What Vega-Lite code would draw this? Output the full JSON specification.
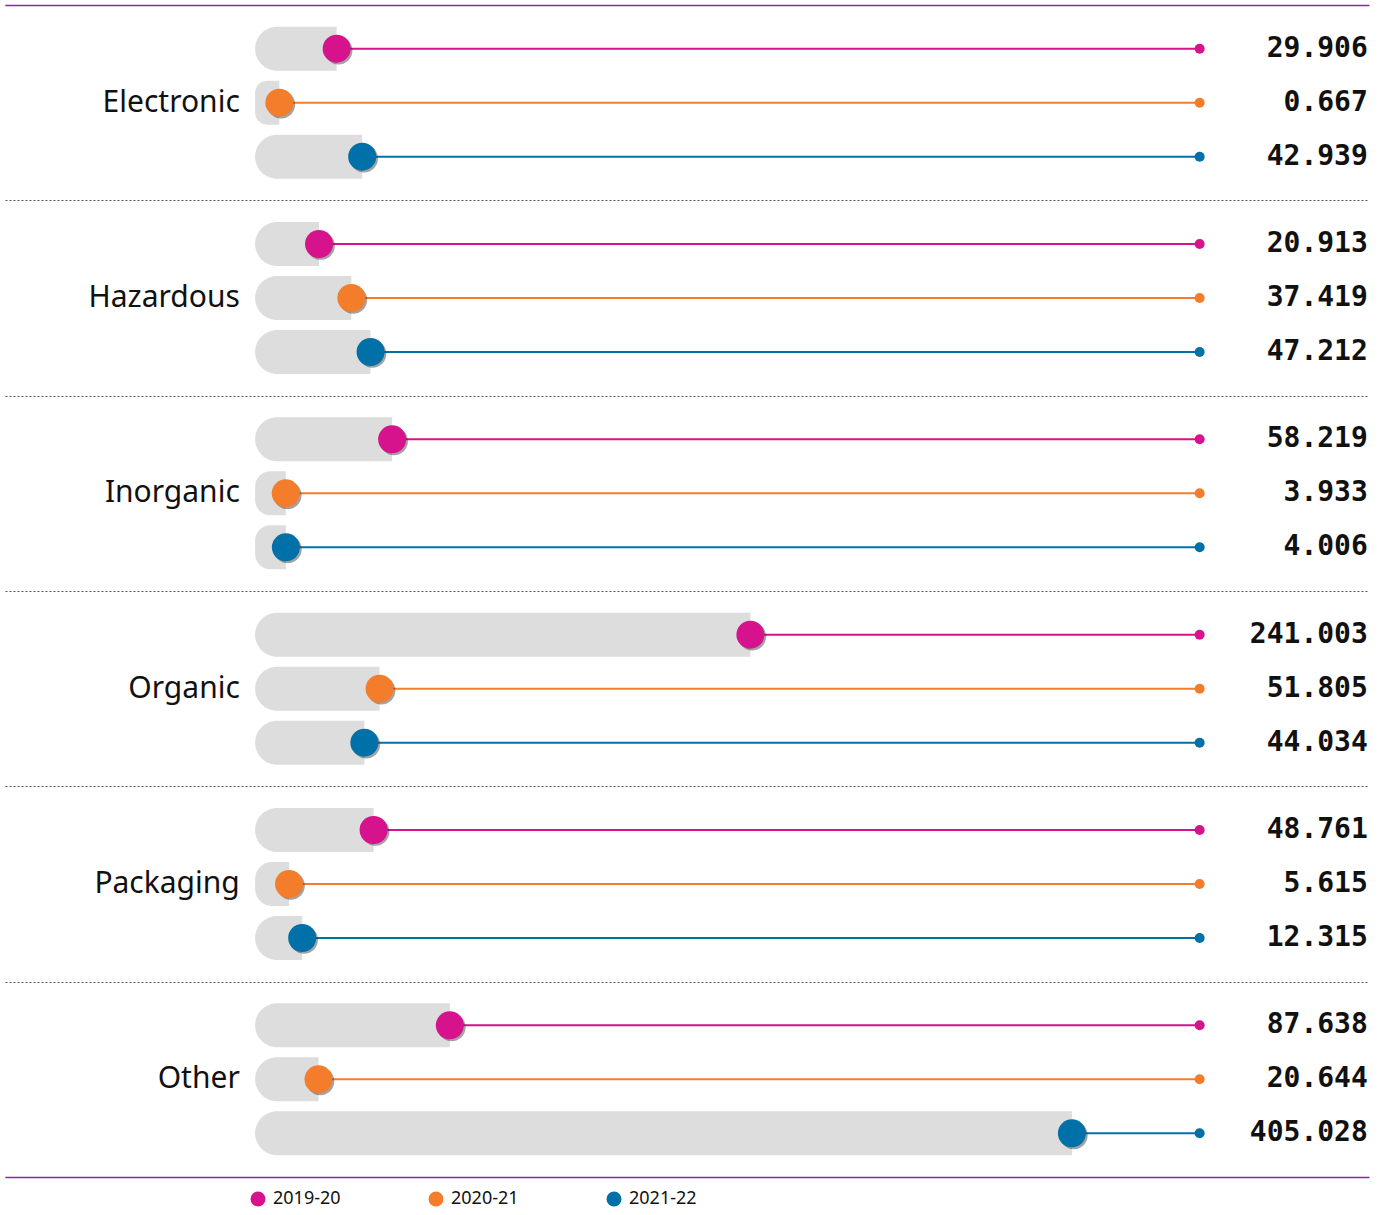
{
  "$schema": "https://vega.github.io/schema/vega-lite/v6.json",
  "width": 1364,
  "height": 1172,
  "padding": {"left": 5, "top": 5, "right": 17, "bottom": 0},
  "background": "white",
  "config": {
    "view": {"stroke": null},
    "font": "Noto Sans",
    "axisX": {"domainColor": "#7b2fa0", "domainWidth": 1.5, "labels": false, "ticks": false, "grid": false, "title": null, "zindex": 1}
  },
  "data": {"values": [
    {"category": "Electronic", "year": "2019-20", "value": 29.906},
    {"category": "Electronic", "year": "2020-21", "value": 0.667},
    {"category": "Electronic", "year": "2021-22", "value": 42.939},
    {"category": "Hazardous", "year": "2019-20", "value": 20.913},
    {"category": "Hazardous", "year": "2020-21", "value": 37.419},
    {"category": "Hazardous", "year": "2021-22", "value": 47.212},
    {"category": "Inorganic", "year": "2019-20", "value": 58.219},
    {"category": "Inorganic", "year": "2020-21", "value": 3.933},
    {"category": "Inorganic", "year": "2021-22", "value": 4.006},
    {"category": "Organic", "year": "2019-20", "value": 241.003},
    {"category": "Organic", "year": "2020-21", "value": 51.805},
    {"category": "Organic", "year": "2021-22", "value": 44.034},
    {"category": "Packaging", "year": "2019-20", "value": 48.761},
    {"category": "Packaging", "year": "2020-21", "value": 5.615},
    {"category": "Packaging", "year": "2021-22", "value": 12.315},
    {"category": "Other", "year": "2019-20", "value": 87.638},
    {"category": "Other", "year": "2020-21", "value": 20.644},
    {"category": "Other", "year": "2021-22", "value": 405.028}
  ]},
  "encoding": {
    "y": {
      "field": "category", "type": "nominal",
      "sort": ["Electronic", "Hazardous", "Inorganic", "Organic", "Packaging", "Other"],
      "scale": {"paddingInner": 0, "paddingOuter": 0},
      "axis": {"title": null, "labels": false, "ticks": false, "domain": false, "grid": true, "tickBand": "extent", "gridColor": "#555", "gridDash": [2, 2], "gridWidth": 1}
    },
    "yOffset": {
      "field": "year", "type": "nominal",
      "sort": ["2019-20", "2020-21", "2021-22"],
      "scale": {"paddingInner": 0.185, "paddingOuter": 0.401}
    }
  },
  "layer": [
    {
      "mark": {"type": "bar", "color": "#dddddd", "cornerRadiusTopLeft": 22, "cornerRadiusBottomLeft": 22},
      "encoding": {
        "x": {"field": "value", "type": "quantitative", "scale": {"domain": [-139.3, 556.6], "nice": false, "zero": false},
              "axis": {"orient": "bottom"}},
        "x2": {"datum": -11.7}
      }
    },
    {
      "mark": {"type": "rule", "strokeWidth": 2},
      "encoding": {
        "x": {"field": "value", "type": "quantitative", "axis": {"orient": "top"}},
        "x2": {"datum": 470.2},
        "color": {"field": "year", "type": "nominal"}
      }
    },
    {
      "mark": {"type": "point", "filled": true, "opacity": 1, "size": 100, "shape": "circle"},
      "encoding": {
        "x": {"datum": 470.2, "type": "quantitative", "axis": null},
        "color": {"field": "year", "type": "nominal"}
      }
    },
    {
      "mark": {"type": "point", "filled": true, "color": "#333333", "opacity": 0.45, "size": 784,
               "shape": "M 1.13 0.13 A 1 1 0 1 1 -0.87 0.13 A 1 1 0 1 1 1.13 0.13 Z"},
      "encoding": {
        "x": {"field": "value", "type": "quantitative", "axis": null}
      }
    },
    {
      "mark": {"type": "point", "filled": true, "opacity": 1, "size": 784, "shape": "circle"},
      "encoding": {
        "x": {"field": "value", "type": "quantitative", "axis": null},
        "color": {
          "field": "year", "type": "nominal",
          "scale": {"domain": ["2019-20", "2020-21", "2021-22"], "range": ["#d6128c", "#f47d2c", "#0070a8"]},
          "legend": {"title": null, "orient": "none", "legendX": 244, "legendY": 1185, "direction": "horizontal",
                     "symbolType": "circle", "symbolSize": 225, "symbolStrokeWidth": 0, "symbolOpacity": 1,
                     "labelFontSize": 18, "labelFont": "Noto Sans", "labelColor": "#111", "columnPadding": 86, "labelOffset": 6}
        }
      }
    },
    {
      "mark": {"type": "text", "align": "right", "baseline": "middle", "font": "DejaVu Sans Mono", "fontWeight": "bold", "fontSize": 28, "color": "#111"},
      "encoding": {
        "x": {"datum": 556, "type": "quantitative", "axis": null},
        "text": {"field": "value", "type": "quantitative", "format": ".3f"}
      }
    },
    {
      "transform": [{"filter": "datum.year === '2020-21'"}],
      "mark": {"type": "text", "align": "right", "baseline": "middle", "font": "Noto Sans", "fontSize": 30, "color": "#111"},
      "encoding": {
        "x": {"datum": -19.5, "type": "quantitative", "axis": null},
        "text": {"field": "category", "type": "nominal"}
      }
    }
  ],
  "resolve": {"axis": {"x": "independent"}}
}
